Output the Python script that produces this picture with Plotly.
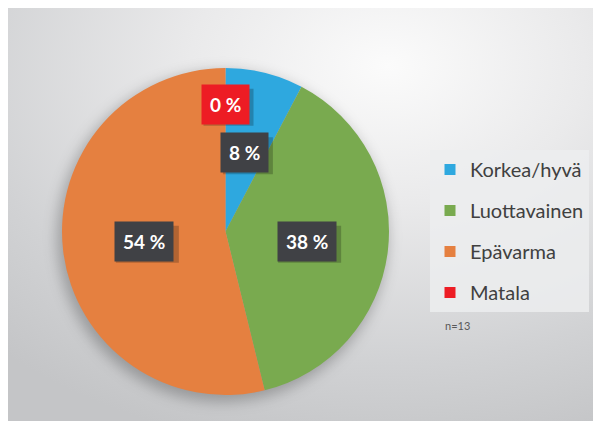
import base64
import math
import plotly.graph_objects as go

# ---- data ----
categories = ["Korkea/hyvä", "Luottavainen", "Epävarma", "Matala"]
counts = [1, 5, 7, 0]
n_label = "n=13"

# ---- styles ----
colors = ["#2EA8DF", "#79AA4F", "#E58040", "#ED1C24"]
label_bg = ["#404145", "#404145", "#404145", "#ED1C24"]
label_r = [0.496, 0.50, 0.50, 0.779]   # label distance from centre (fraction of radius)
FONT = "Lato, Open Sans, sans-serif"

OFF = 8            # page body margin
W, H = 601 - OFF, 421 - OFF


def px(x):   # reference pixel x -> paper
    return (x - OFF) / W


def py(y):   # reference pixel y -> paper
    return 1 - (y - OFF) / H


pie_l, pie_r, pie_t, pie_b = 62, 389, 68, 395
cx_px, cy_px = (pie_l + pie_r) / 2, (pie_t + pie_b) / 2
R = (pie_r - pie_l) / 2

svg = f'''<svg xmlns="http://www.w3.org/2000/svg" width="{W}" height="{H}" viewBox="0 0 {W} {H}">
<defs>
<radialGradient id="g" cx="0.64" cy="0.14" r="0.95" fx="0.64" fy="0.14">
<stop offset="0" stop-color="#fbfbfb"/>
<stop offset="0.35" stop-color="#eaeaeb"/>
<stop offset="0.75" stop-color="#d1d2d4"/>
<stop offset="1" stop-color="#c4c5c7"/>
</radialGradient>
<filter id="b" x="-30%" y="-30%" width="160%" height="160%"><feGaussianBlur stdDeviation="7"/></filter>
</defs>
<rect x="0" y="0" width="{W}" height="{H}" fill="url(#g)"/>
<circle cx="{cx_px-OFF-3}" cy="{cy_px-OFF+5}" r="{R+2}" fill="rgba(0,0,0,0.25)" filter="url(#b)"/>
</svg>'''
src = "data:image/svg+xml;base64," + base64.b64encode(svg.encode()).decode()

fig = go.Figure()
fig.add_trace(go.Pie(
    labels=categories, values=counts, sort=False, direction="clockwise",
    rotation=0, marker=dict(colors=colors, line=dict(width=0)),
    textinfo="none", showlegend=False, hoverinfo="label+percent",
    domain=dict(x=[px(pie_l), px(pie_r)], y=[py(pie_b), py(pie_t)]),
))

# legend via marker-only entries
for i, (c, col) in enumerate(zip(categories, colors)):
    fig.add_trace(go.Scatter(
        x=[None], y=[None], mode="markers", name=c, legendgroup=f"g{i}",
        marker=dict(symbol="square", size=11, color=col),
    ))

# percentage labels computed from data
total = sum(counts)
cum = 0
annotations = []
shapes = []
for i, v in enumerate(counts):
    frac = v / total
    mid = (cum + frac / 2) * 2 * math.pi
    cum += frac
    pct = round(frac * 100)
    lx = cx_px + math.sin(mid) * R * label_r[i]
    ly = cy_px - math.cos(mid) * R * label_r[i]
    label = f"{pct} %"
    bw, bh = 13 * len(label) + 11, 37
    # soft drop shadow behind the label box
    shapes.append(dict(type="rect", xref="paper", yref="paper", layer="above",
                       x0=px(lx - bw / 2 + 3), x1=px(lx + bw / 2 + 3),
                       y0=py(ly + bh / 2 + 3), y1=py(ly - bh / 2 + 3),
                       fillcolor="rgba(0,0,0,0.22)", line=dict(width=0)))
    annotations.append(dict(text=f"<b>{label}</b>", x=px(lx), y=py(ly), xref="paper", yref="paper",
                            xanchor="center", yanchor="middle", showarrow=False, borderpad=8,
                            bgcolor=label_bg[i],
                            font=dict(family=FONT, size=19, color="white")))

annotations.append(dict(text=n_label, x=px(443), y=py(325), xref="paper", yref="paper",
                        xanchor="left", yanchor="middle", showarrow=False,
                        font=dict(family=FONT, size=11, color="#595959")))

fig.update_layout(
    width=W, height=H, margin=dict(l=0, r=0, t=0, b=0),
    paper_bgcolor="white", plot_bgcolor="rgba(0,0,0,0)",
    xaxis=dict(visible=False), yaxis=dict(visible=False),
    images=[dict(source=src, xref="paper", yref="paper", x=0, y=1, sizex=1, sizey=1,
                 xanchor="left", yanchor="top", sizing="stretch", layer="below")],
    legend=dict(x=px(430), y=py(150), xanchor="left", yanchor="top",
                bgcolor="rgba(236,237,239,0.85)", tracegroupgap=12,
                font=dict(family=FONT, size=20, color="#404040")),
    annotations=annotations,
    shapes=shapes,
    showlegend=True,
)

fig.write_html("out.html")
